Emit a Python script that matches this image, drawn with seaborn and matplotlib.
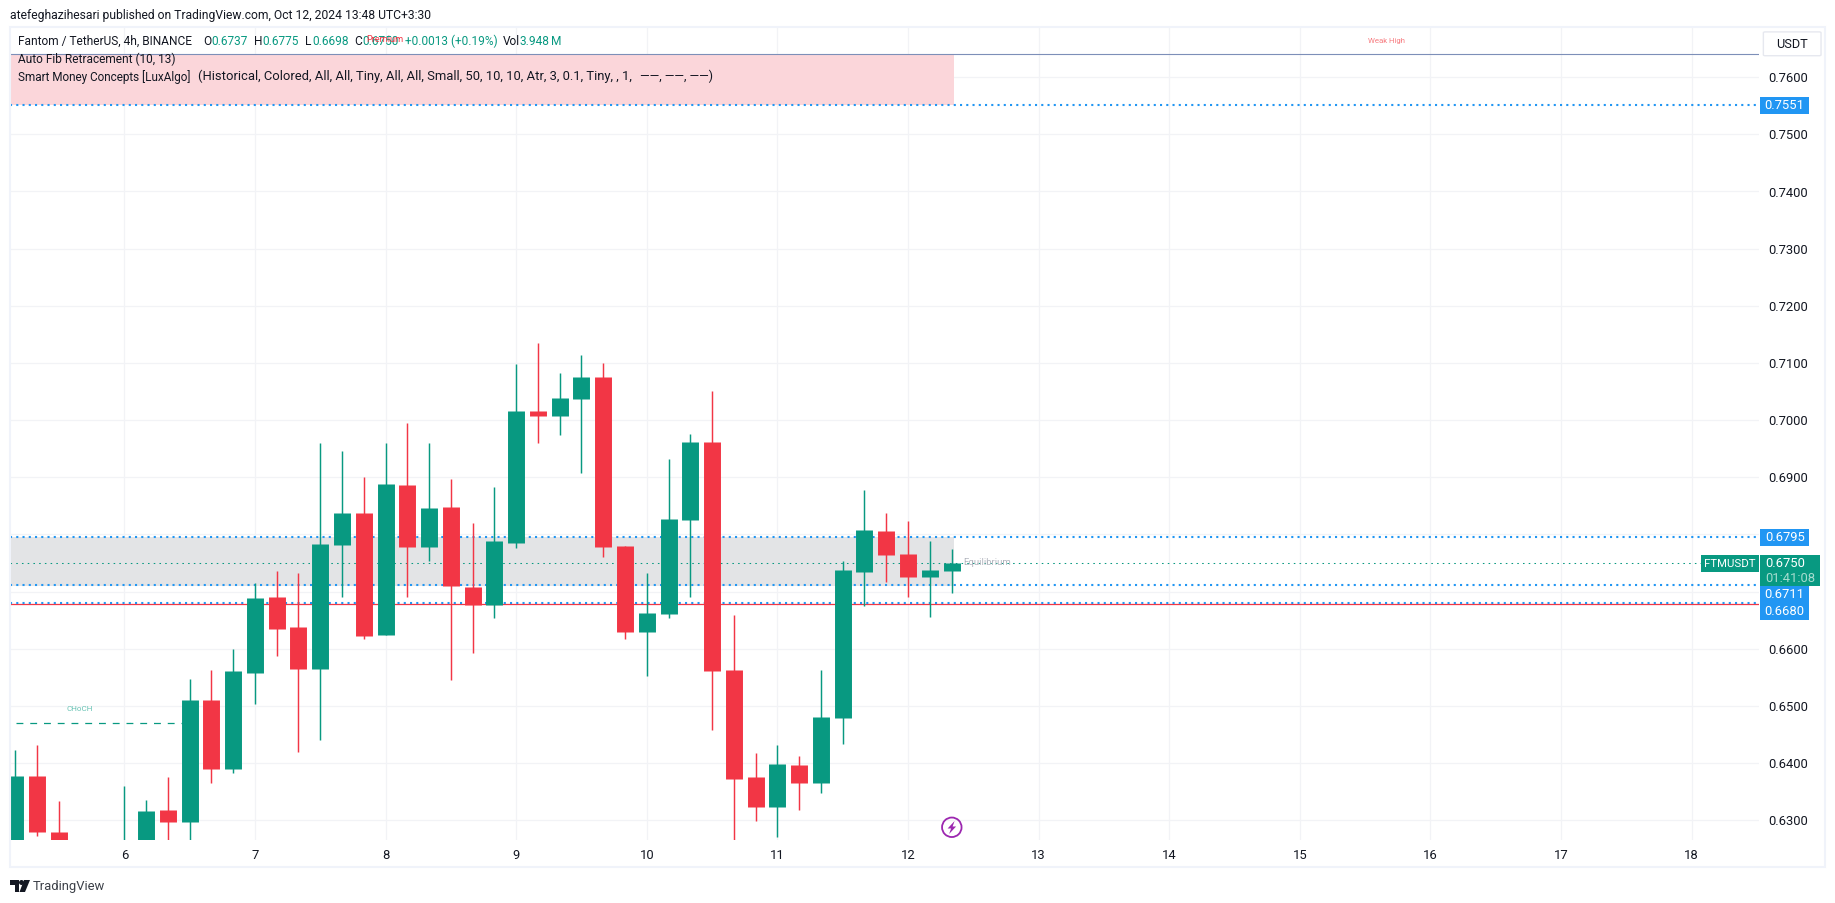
import matplotlib
matplotlib.use("Agg")
import matplotlib.pyplot as plt
from matplotlib.patches import Rectangle, Ellipse, Polygon, FancyBboxPatch
import pandas as pd
import seaborn as sns

W, H = 1835, 903
GREEN = "#089981"
RED = "#f23645"
BLUE = "#2196f3"
INK = "#131722"

# 4h candles, counted from day 6 (6 per day). Bars under the visible range are left out
bar_idx = [-5, -4, -3, 0, 1, 2, 3, 4, 5, 6, 7, 8, 9, 10, 11, 12, 13, 14, 15, 16, 17, 18, 19,
           20, 21, 22, 23, 24, 25, 26, 27, 28, 29, 30, 31, 32, 33, 34, 35, 36, 37, 38]
opens = [.6240, .6377, .6280, .6245, .6250, .6318, .6297, .6510, .6390, .6558, .6691, .6638,
         .6565, .6782, .6838, .6624, .6887, .6778, .6848, .6708, .6677, .6785, .7016, .7007,
         .7037, .7076, .6780, .6629, .6661, .6825, .6962, .6563, .6376, .6323, .6397, .6365,
         .6479, .6734, .6806, .6766, .6726, .6736]
closes = [.6377, .6280, .6250, .6255, .6316, .6297, .6510, .6390, .6561, .6689, .6635, .6565,
          .6783, .6838, .6622, .6888, .6778, .6846, .6710, .6677, .6789, .7016, .7007, .7039,
          .7076, .6778, .6629, .6663, .6827, .6962, .6561, .6372, .6323, .6398, .6365, .6481,
          .6738, .6808, .6764, .6726, .6738, .6750]
highs = [.6423, .6432, .6334, .6360, .6335, .6376, .6547, .6563, .6600, .6715, .6736, .6733,
         .6960, .6946, .6901, .6960, .6995, .6960, .6897, .6820, .6883, .7098, .7135, .7083,
         .7114, .7100, .6780, .6733, .6932, .6976, .7051, .6659, .6418, .6432, .6412, .6563,
         .6754, .6878, .6838, .6824, .6789, .6775]
lows = [.6230, .6273, .6245, .6240, .6245, .6250, .6255, .6365, .6383, .6503, .6587, .6420,
        .6440, .6691, .6617, .6624, .6691, .6754, .6545, .6593, .6654, .6776, .6960, .6974,
        .6908, .6761, .6617, .6552, .6654, .6691, .6458, .6262, .6299, .6271, .6318, .6348,
        .6433, .6675, .6717, .6691, .6656, .6698]

day_ticks = [6, 7, 8, 9, 10, 11, 12, 13, 14, 15, 16, 17, 18]
price_ticks = [.63, .64, .65, .66, .67, .68, .69, .70, .71, .72, .73, .74, .75, .76]
hidden_ticks = [.67, .68]

level_high = 0.7551
level_eq_top = 0.6795
level_eq_bot = 0.6711
level_low = 0.6680
last_price = 0.6750
top_line = 0.7641
premium_end_day = 12.35
choch_price = 0.6471
choch_days = [5.17, 6.47]

rows = []
for i, o, c, h, l in zip(bar_idx, opens, closes, highs, lows):
    rows.append(dict(day=6 + i / 6, candle=i, o=o, c=c, h=h, l=l, side="up" if c >= o else "down"))
df = pd.DataFrame(rows)
wicks = df.melt(id_vars=["candle", "day", "side"], value_vars=["h", "l"], value_name="price")
bodies = df.melt(id_vars=["candle", "day", "side"], value_vars=["o", "c"], value_name="price")

sns.set_theme(style="whitegrid", rc={"grid.color": "#f2f3f6", "grid.linewidth": 0.9})
plt.rcParams["font.family"] = ["Roboto", "DejaVu Sans"]

fig = plt.figure(figsize=(18.352, 9.032), dpi=100)
ax = fig.add_axes([10 / W, 1 - 840 / H, 1749 / W, 813 / H])
ax.set_axisbelow(True)


def fx(px):
    return px / W


def fy(px):
    return 1 - px / H


def ftext(px, py, s, color=INK, size=8.6, ha="left", **kw):
    fig.text(fx(px), fy(py), s, color=color, fontsize=size, ha=ha, va="center", **kw)


palette = {"up": GREEN, "down": RED}
sns.lineplot(data=wicks, x="day", y="price", hue="side", units="candle", estimator=None,
             palette=palette, linewidth=1.05, legend=False, ax=ax, zorder=5,
             solid_capstyle="butt")
sns.lineplot(data=bodies, x="day", y="price", hue="side", units="candle", estimator=None,
             palette=palette, linewidth=12.2, legend=False, ax=ax, zorder=6,
             solid_capstyle="butt")

ax.set_xlim(5.1248, 18.517)
ax.set_ylim(0.62655, 0.7688)

# zones
xmin = 5.1248
ax.fill_between([xmin, premium_end_day], level_high, top_line, color="#fbd6da", lw=0, zorder=1)
ax.fill_between([xmin, premium_end_day], level_eq_bot - 0.0001, level_eq_top + 0.0001,
                color="#e3e4e6", lw=0, zorder=1)

# levels
dots = (0, (1, 2))
ax.axhline(level_low - 0.00017, color=RED, lw=0.9, zorder=3)
for lv in [level_high, level_eq_top, level_eq_bot, level_low]:
    ax.axhline(lv, color=BLUE, lw=1.5, ls=dots, zorder=3)
ax.axhline(top_line, color="#7d8fb8", lw=0.8, zorder=3)
ax.axhline(last_price, color=GREEN, lw=0.75, ls=(0, (1.5, 4)), zorder=3)
ax.plot(choch_days, [choch_price, choch_price], color=GREEN, lw=0.9, ls=(0, (5.5, 5.5)), zorder=3)

ax.text(5.66, choch_price + 0.00235, "CHoCH", color="#66c2b3", fontsize=5.8, ha="center", va="center")
ax.text(12.42, last_price + 0.0001, "Equilibrium", color="#b2b5be", fontsize=6.8, ha="left", va="center", zorder=4)
ax.text(15.66, 0.7664, "Weak High", color="#f77c80", fontsize=5.6, ha="center", va="center")

ax.set_xlabel("")
ax.set_ylabel("")
ax.set_xticks(day_ticks)
ax.set_xticklabels([str(d) for d in day_ticks], color=INK, fontsize=9.4)
ax.set_yticks(price_ticks)
ax.set_yticklabels(["" if p in hidden_ticks else f"{p:.4f}" for p in price_ticks], color=INK, fontsize=9.4)
ax.yaxis.tick_right()
ax.tick_params(axis="x", length=0, pad=6)
ax.tick_params(axis="y", length=0, pad=6.5)
for s in ax.spines.values():
    s.set_visible(False)

# frame around pane and price axis
fig.add_artist(Rectangle((fx(10), fy(867)), 1815 / W, 840 / H, transform=fig.transFigure,
                         fill=False, edgecolor="#f0f3fa", lw=1.5, zorder=0.5))

# header and legend rows
ftext(10, 15, "atefeghazihesari published on TradingView.com, Oct 12, 2024 13:48 UTC+3:30", size=8.7)
ftext(18, 41.5, "Fantom / TetherUS, 4h, BINANCE")
for px, s, col in [(203, "O", INK), (211, "0.6737", GREEN), (254, "H", INK), (262, "0.6775", GREEN),
                   (305, "L", INK), (312, "0.6698", GREEN), (354, "C", INK), (362, "0.6750", GREEN),
                   (405, "+0.0013 (+0.19%)", GREEN), (503, "Vol", INK), (519, "3.948", GREEN),
                   (551, "M", GREEN)]:
    ftext(px, 41.5, s, color=col)
ftext(366, 39, "Premium", color=RED, size=6.6)
ftext(18, 59.5, "Auto Fib Retracement (10, 13)")
ftext(18, 76.5, "Smart Money Concepts [LuxAlgo]", size=8.5)
ftext(198, 76.5, "(Historical, Colored, All, All, Tiny, All, All, Small, "
                 "50, 10, 10, Atr, 3, 0.1, Tiny, , 1,", size=9.4)
ftext(640, 76.5, "\u2014\u2014, \u2014\u2014, \u2014\u2014)", size=8.9)

# USDT button
fig.add_artist(FancyBboxPatch((fx(1765), fy(55)), 54 / W, 22 / H, boxstyle="round,pad=0.001",
                              transform=fig.transFigure, facecolor="white", edgecolor="#e6e8ef", lw=1))
ftext(1792, 44, "USDT", ha="center", size=9.2)


# price tags on the right
def tag(px0, px1, y0, y1, color):
    fig.add_artist(Rectangle((fx(px0), fy(y1)), (px1 - px0) / W, (y1 - y0) / H,
                             transform=fig.transFigure, facecolor=color, edgecolor="none", zorder=2))


tag(1760, 1809, 97, 114, BLUE)
ftext(1784.5, 105, f"{level_high:.4f}", color="white", ha="center", size=9.4)
tag(1760, 1809, 529, 546, BLUE)
ftext(1784.5, 537, f"{level_eq_top:.4f}", color="white", ha="center", size=9.4)
tag(1760, 1809, 585, 620, BLUE)
ftext(1784.5, 594, f"{level_eq_bot:.4f}", color="white", ha="center", size=9.4)
ftext(1784.5, 611.5, f"{level_low:.4f}", color="white", ha="center", size=9.4)
tag(1760, 1820, 555, 586, GREEN)
ftext(1784.5, 563, f"{last_price:.4f}", color="white", ha="center", size=9.4)
ftext(1790, 578, "01:41:08", color="#a6dccf", ha="center", size=9.4)
tag(1701, 1759, 555, 572, GREEN)
ftext(1730, 563.5, "FTMUSDT", color="white", ha="center", size=8.2)

# lightning mark
fig.add_artist(Ellipse((fx(951.7), fy(827.3)), 19.5 / W, 19.5 / H, transform=fig.transFigure,
                       fill=False, edgecolor="#9c27b0", lw=1.3))
bolt = [(954.5, 821), (947.5, 828.5), (951, 828.5), (949, 834), (956, 826.5), (952.5, 826.5)]
fig.add_artist(Polygon([(fx(a), fy(b)) for a, b in bolt], transform=fig.transFigure,
                       facecolor="#9c27b0", edgecolor="none"))

# TradingView logo
logo_1 = [(10, 880), (19, 880), (19, 892), (15, 892), (15, 885), (10, 885)]
logo_2 = [(24, 880), (30, 880), (25, 892), (19.5, 892)]
for shape in [logo_1, logo_2]:
    fig.add_artist(Polygon([(fx(a), fy(b)) for a, b in shape], transform=fig.transFigure,
                           facecolor="#131722", edgecolor="none"))
fig.add_artist(Ellipse((fx(21.5), fy(882.5)), 5 / W, 5 / H, transform=fig.transFigure,
                       facecolor="#131722", edgecolor="none"))
ftext(33, 886, "TradingView", color="#3c4048", size=9.4)

fig.savefig("out.png", dpi=100, facecolor="white")
